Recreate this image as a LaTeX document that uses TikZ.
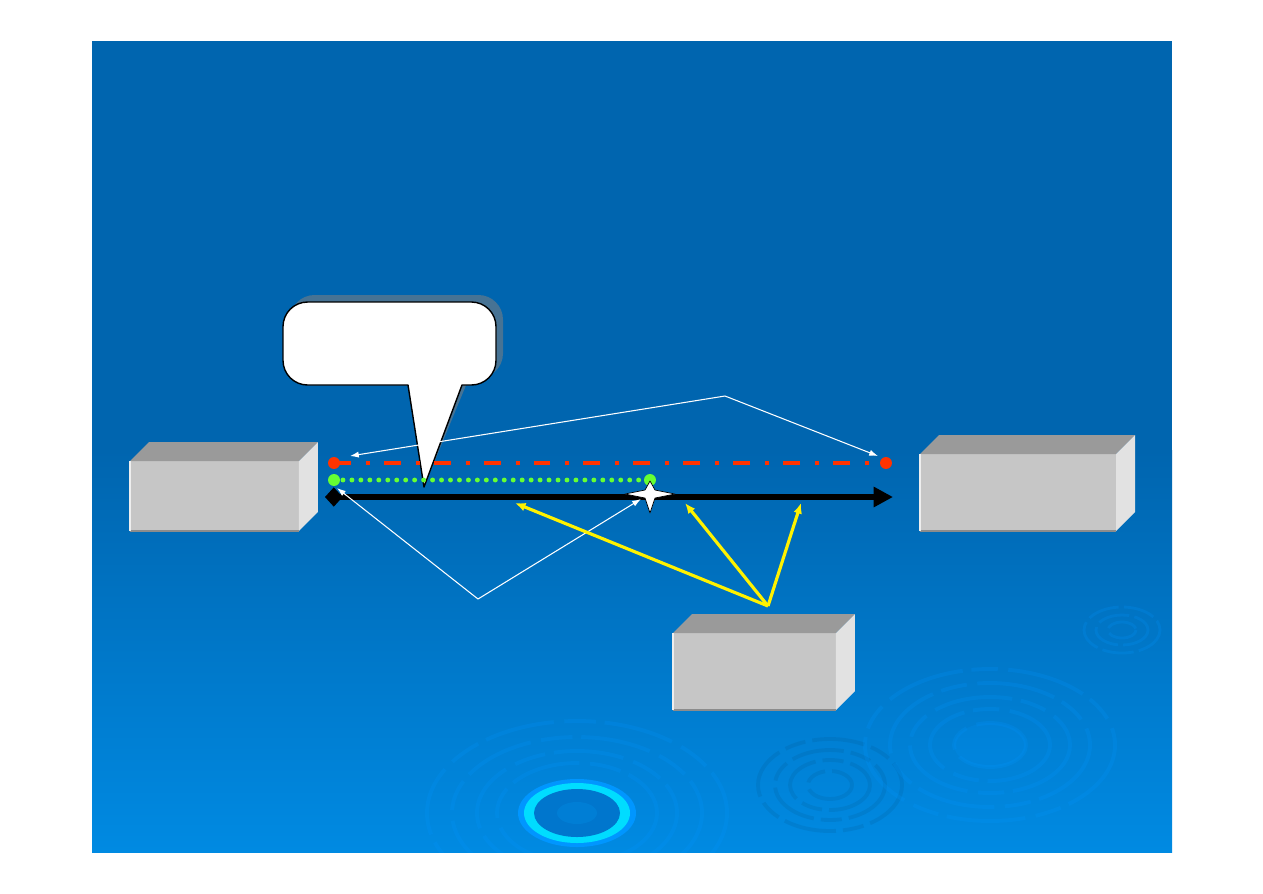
\documentclass[tikz,border=0pt]{standalone}
\usetikzlibrary{calc,positioning,arrows.meta}
\definecolor{slidetop}{RGB}{0,101,175}
\definecolor{slidebot}{RGB}{0,138,226}
\definecolor{boxfront}{RGB}{198,198,198}
\definecolor{boxtop}{RGB}{154,154,154}
\definecolor{boxside}{RGB}{226,226,226}
\definecolor{dashred}{RGB}{255,51,0}
\definecolor{dotgreen}{RGB}{102,255,51}
\definecolor{ringcyan}{RGB}{0,220,255}
\definecolor{ringblue}{RGB}{0,150,255}
\definecolor{ringdark}{RGB}{0,118,205}

\begin{document}
\begin{tikzpicture}[x=0.02cm, y=-0.02cm, >=latex, line join=round]
    \tikzset{
        box/.style={fill=boxfront, inner sep=0pt, outer sep=0pt},
        wire/.style={white, line width=0.6pt, -{Latex[length=5pt,width=3.5pt]}},
        ray/.style={yellow, line width=1.8pt, -{Latex[length=6pt,width=5pt]}},
        ripple/.style={line width=2.2pt, opacity=0.2},
    }
    \useasboundingbox (0,0) rectangle (1263,893);
    \fill[white] (0,0) rectangle (1263,893);
    \fill[slidetop] (92,41) rectangle (1172,451);
    \shade[top color=slidetop, bottom color=slidebot] (92,450) rectangle (1172,852);

    % ripples in the background
    \begin{scope}
        \clip (92,41) rectangle (1172,852);
        \foreach \rx/\ry in {150/92, 125/76, 100/62, 80/50}
            \draw[ripple, ringblue, dash pattern=on 40pt off 6pt on 18pt off 5pt]
                (577,813) ellipse [x radius=\rx, y radius=\ry];
        \fill[ringblue] (577,813) ellipse [x radius=59, y radius=34];
        \fill[ringcyan] (577,813) ellipse [x radius=53, y radius=30];
        \fill[ringdark] (577,813) ellipse [x radius=43, y radius=24];
        \fill[slidebot, opacity=0.4] (577,813) ellipse [x radius=20, y radius=11];
        \foreach \rx/\ry in {72/46, 55/35, 40/25, 22/14}
            \draw[ripple, black!50!slidebot, opacity=0.12, dash pattern=on 30pt off 4pt on 12pt off 4pt]
                (830,785) ellipse [x radius=\rx, y radius=\ry];
        \foreach \rx/\ry in {125/76, 100/62, 80/48, 60/36, 36/22}
            \draw[ripple, ringblue, dash pattern=on 45pt off 5pt on 15pt off 6pt]
                (990,745) ellipse [x radius=\rx, y radius=\ry];
        \fill[ringblue, opacity=0.15] (990,745) ellipse [x radius=36, y radius=22];
        \foreach \rx/\ry in {38/23, 26/15, 14/8}
            \draw[ripple, ringblue, line width=1.6pt, dash pattern=on 18pt off 3pt]
                (1122,630) ellipse [x radius=\rx, y radius=\ry];
    \end{scope}

    % boxes
    \node[box, minimum width=3.38cm, minimum height=1.40cm] (sender) at (214.5,496) {};
    \node[box, minimum width=3.92cm, minimum height=1.54cm] (receiver) at (1018,492.5) {};
    \node[box, minimum width=3.26cm, minimum height=1.54cm] (monitor) at (754.5,671.5) {};
    \foreach \b in {sender,receiver,monitor}{
        \fill[boxtop] (\b.north west) -- ++(19,-19) -- ($(\b.north east)+(19,-19)$)
            -- (\b.north east) -- cycle;
        \fill[boxside] (\b.north east) -- ++(19,-19) -- ($(\b.south east)+(19,-19)$)
            -- (\b.south east) -- cycle;
        \draw[black!45, line width=0.8pt] (\b.south west) -- (\b.south east);
        \draw[white!70!boxfront, line width=0.8pt] (\b.south west) -- (\b.north west);
    }

    % callout
    \coordinate (tip) at (424,487);
    \begin{scope}[shift={(7,-7)}]
        \fill[gray!80!slidetop, opacity=0.7] (tip) -- (408,385) [rounded corners=14] -- (283,385)
            -- (283,302) -- (496,302) -- (496,385) [sharp corners] -- (462,385) -- cycle;
    \end{scope}
    \draw[fill=white, line width=0.8pt] (tip) -- (408,385) [rounded corners=14] -- (283,385)
        -- (283,302) -- (496,302) -- (496,385) [sharp corners] -- (462,385) -- cycle;

    % links
    \coordinate (redL) at (334,463);
    \coordinate (redR) at (886,463);
    \coordinate (grnL) at (334,480);
    \coordinate (grnR) at (650,480);
    \coordinate (lnkL) at (325,497);
    \coordinate (lnkR) at (893,497);
    \coordinate (star) at (650,494);
    \draw[dashred, line width=2.3pt, dash pattern=on 9.6pt off 8.5pt on 2.3pt off 8pt]
        (redL) -- (redR);
    \fill[dashred] (redL) circle (3.4pt) (redR) circle (3.4pt);
    \draw[dotgreen, line width=2.8pt, line cap=round, dash pattern=on 0pt off 5.1pt]
        (grnL) -- (grnR);
    \fill[dotgreen] (grnL) circle (3.4pt) (grnR) circle (3.4pt);
    \draw[line width=3.4pt, {Diamond[length=10pt,width=11pt]}-{Triangle[length=11pt,width=11pt]}]
        (lnkL) -- (lnkR);
    \draw[fill=white, line width=0.4pt, shift={(star)}]
        (-25,0) -- (-5,-4) -- (0,-13) -- (5,-4) -- (25,0) -- (5,4) -- (0,19) -- (-5,4) -- cycle;

    % pointers
    \coordinate (wtop) at (725,396);
    \coordinate (wbot) at (478,599);
    \coordinate (ysrc) at (768,606);
    \draw[wire] (wtop) -- (350,456);
    \draw[wire] (wtop) -- (878,456);
    \draw[wire] (wbot) -- (337,488);
    \draw[wire] (wbot) -- (641,499);
    \draw[ray] (ysrc) -- (515,503);
    \draw[ray] (ysrc) -- (685,503);
    \draw[ray] (ysrc) -- (801,503);
\end{tikzpicture}
\end{document}
